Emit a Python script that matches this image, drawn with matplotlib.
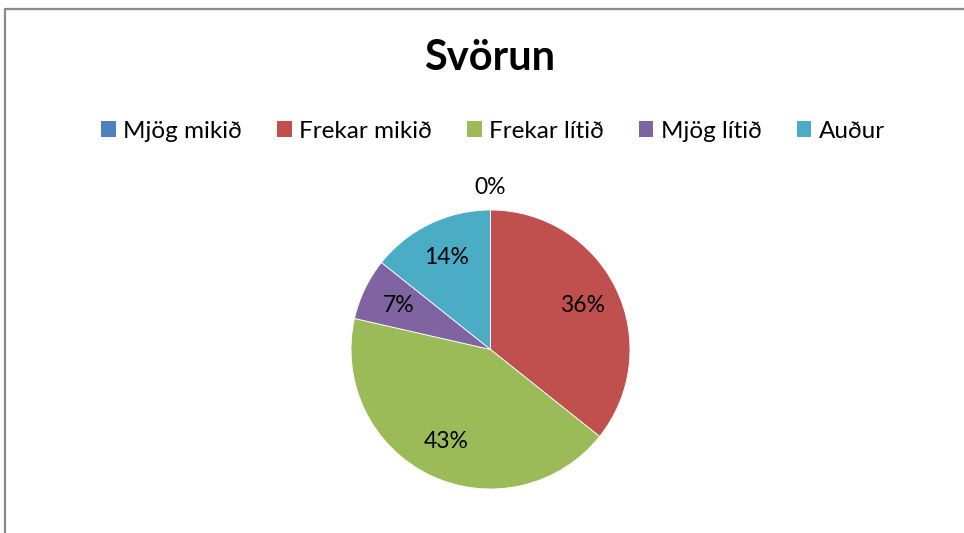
import matplotlib
matplotlib.use('Agg')
import matplotlib.pyplot as plt
from matplotlib.patches import Rectangle, Patch
import numpy as np

plt.rcParams['font.family'] = ['Lato', 'DejaVu Sans']

categories = ['Mjög mikið', 'Frekar mikið', 'Frekar lítið', 'Mjög lítið', 'Auður']
counts = [0, 5, 6, 1, 2]
colors = ['#4F81BD', '#C0504D', '#9BBB59', '#8064A2', '#4BACC6']

W, H = 964, 533
fig = plt.figure(figsize=(W / 100, H / 100), dpi=100)

# chart frame (cropped on right and bottom)
fig.patches.append(Rectangle((5 / W, -0.1), 1.2, (H - 9.5) / H + 0.1,
                             transform=fig.transFigure, fill=False,
                             edgecolor='#8a8a8a', linewidth=1.6))

fig.text(490 / W, 1 - 58 / H, 'Svörun', ha='center', va='center',
         fontsize=30, fontweight='bold')

# pie placement
cx, cy, r = 490.5, 349.5, 139.5
ax = fig.add_axes([(cx - r) / W, 1 - (cy + r) / H, 2 * r / W, 2 * r / H])
wedges, _ = ax.pie(counts, colors=colors, startangle=90, counterclock=False,
                   radius=1, wedgeprops=dict(edgecolor='white', linewidth=0.6))
ax.set_xlim(-1, 1)
ax.set_ylim(-1, 1)
ax.set_aspect('equal')
ax.axis('off')

total = sum(counts)
for w, c in zip(wedges, counts):
    ang = np.deg2rad((w.theta1 + w.theta2) / 2)
    d = 0.73 if c > 0 else 1.16
    ax.text(d * np.cos(ang), d * np.sin(ang), f'{c / total * 100:.0f}%',
            ha='center', va='center', fontsize=16.5, clip_on=False)

handles = [Patch(facecolor=col, edgecolor='none') for col in colors]
fig.legend(handles, categories, loc='center', bbox_to_anchor=(493 / W, 1 - 131 / H),
           ncol=5, frameon=False, fontsize=17.5, handlelength=0.6, handleheight=0.6,
           handletextpad=0.3, columnspacing=1.45)

fig.savefig('out.png', dpi=100)
